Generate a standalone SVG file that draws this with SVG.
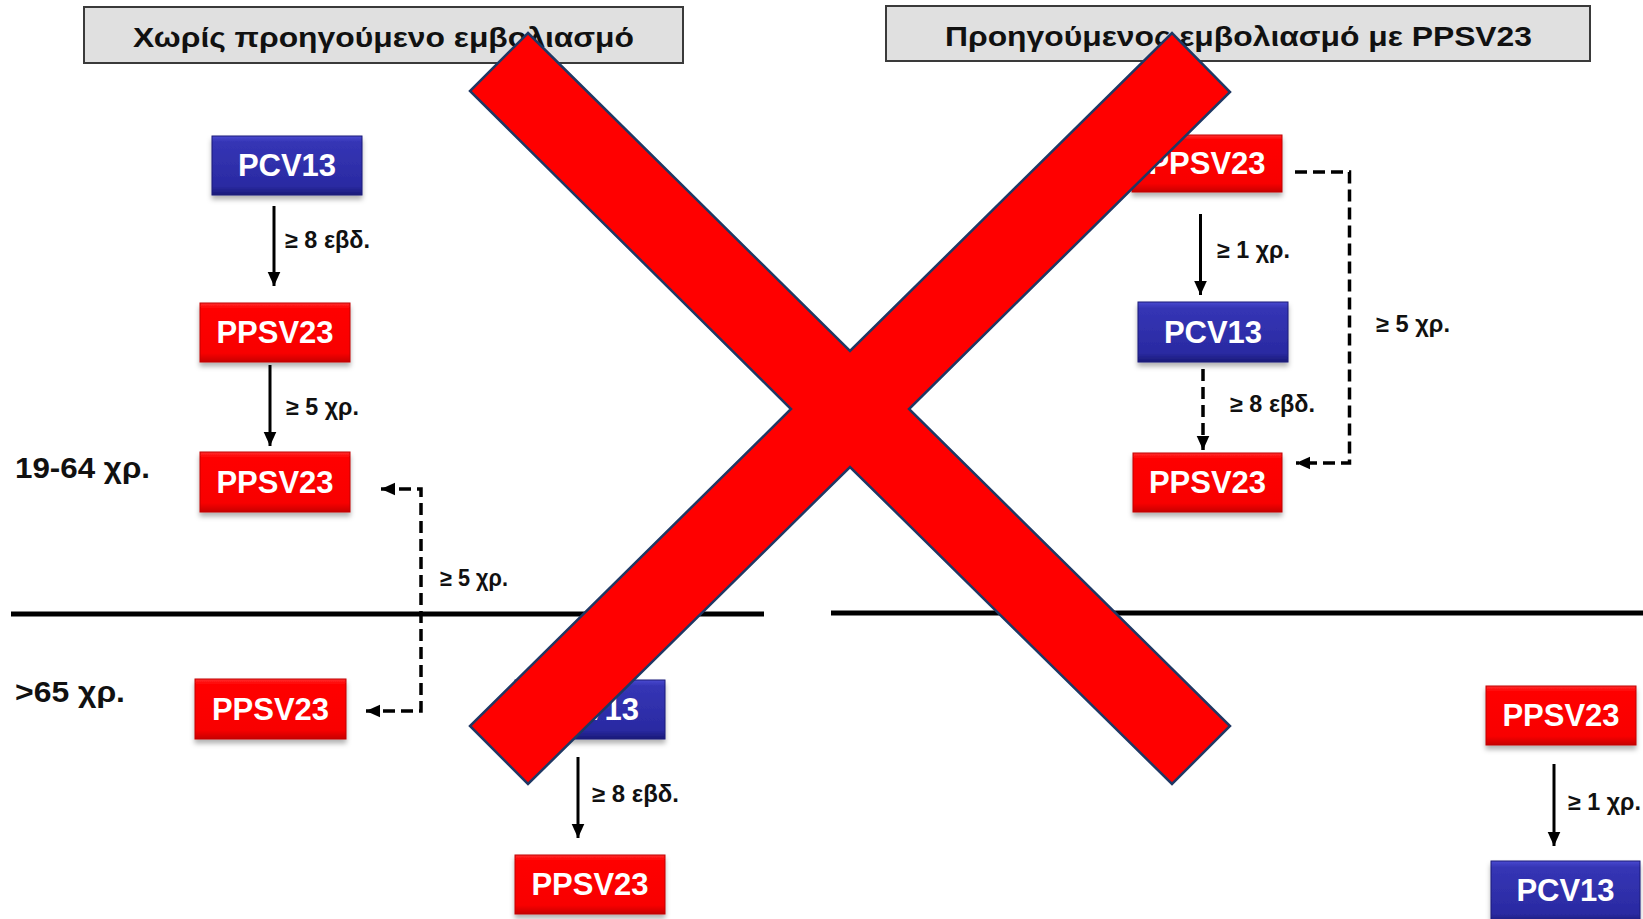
<svg xmlns="http://www.w3.org/2000/svg" width="1643" height="919" viewBox="0 0 1643 919">
<style>
.hdr{fill:#e0e0e0;stroke:#3a3a3a;stroke-width:2}
.htxt{font-family:"Liberation Sans",Arial,sans-serif;font-weight:bold;font-size:28px;fill:#111}
.rbox{fill:url(#gRed);stroke:#c00000;stroke-width:1;filter:url(#sh)}
.bbox{fill:url(#gBlue);stroke:#1c1c78;stroke-width:1;filter:url(#sh)}
.btxt{font-family:"Liberation Sans",Arial,sans-serif;font-weight:bold;font-size:31px;fill:#fff;text-anchor:middle}
.lbl{font-family:"Liberation Sans",Arial,sans-serif;font-weight:bold;font-size:23px;fill:#111}
.age{font-family:"Liberation Sans",Arial,sans-serif;font-weight:bold;font-size:29px;fill:#111}
.solid{fill:none;stroke:#000;stroke-width:3}
.dash{fill:none;stroke:#000;stroke-width:3.5;stroke-dasharray:12 6}
.sep{stroke:#000;stroke-width:5}
.cross{fill:#ff0000;stroke:#1f3864;stroke-width:2.5;stroke-linejoin:miter}
</style>
<defs>
<linearGradient id="gRed" x1="0" y1="0" x2="0" y2="1">
<stop offset="0" stop-color="#ff3030"/>
<stop offset="0.08" stop-color="#ff0505"/>
<stop offset="0.85" stop-color="#f80000"/>
<stop offset="1" stop-color="#c80000"/>
</linearGradient>
<linearGradient id="gBlue" x1="0" y1="0" x2="0" y2="1">
<stop offset="0" stop-color="#4a4ad0"/>
<stop offset="0.1" stop-color="#3535b5"/>
<stop offset="0.85" stop-color="#2a2aa2"/>
<stop offset="1" stop-color="#1a1a78"/>
</linearGradient>
<filter id="sh" x="-10%" y="-10%" width="120%" height="140%">
<feDropShadow dx="0" dy="4" stdDeviation="2.5" flood-color="#000" flood-opacity="0.3"/>
</filter>
<marker id="ah" viewBox="0 0 10 10" refX="10" refY="5" markerWidth="14" markerHeight="14" markerUnits="userSpaceOnUse" orient="auto-start-reverse">
<path d="M0,0.5 L10,5 L0,9.5 z" fill="#000"/>
</marker>
</defs>

<g id="header-left">
<rect class="hdr" x="84" y="7" width="599" height="56"/>
<text class="htxt" x="133" y="47" textLength="501" lengthAdjust="spacingAndGlyphs">Χωρίς προηγούμενο εμβολιασμό</text>
</g>
<g id="header-right">
<rect class="hdr" x="886" y="6" width="704" height="55"/>
<text class="htxt" x="945" y="46" textLength="587" lengthAdjust="spacingAndGlyphs">Προηγούμενος εμβολιασμό με PPSV23</text>
</g>

<g id="separators">
<line class="sep" x1="11" y1="614" x2="764" y2="614"/>
<line class="sep" x1="831" y1="613" x2="1643" y2="613"/>
</g>

<g id="age-labels">
<text class="age" x="15" y="478" textLength="135" lengthAdjust="spacingAndGlyphs">19-64 χρ.</text>
<text class="age" x="15" y="702" textLength="110" lengthAdjust="spacingAndGlyphs">&gt;65 χρ.</text>
</g>

<g id="n1"><rect class="bbox" x="212" y="136" width="150" height="59"/><text class="btxt" x="287" y="176">PCV13</text></g>
<g id="n2"><rect class="rbox" x="200" y="303" width="150" height="59"/><text class="btxt" x="275" y="343">PPSV23</text></g>
<g id="n3"><rect class="rbox" x="200" y="452" width="150" height="60"/><text class="btxt" x="275" y="493">PPSV23</text></g>
<g id="n4"><rect class="rbox" x="195" y="679" width="151" height="60"/><text class="btxt" x="270.5" y="720">PPSV23</text></g>
<g id="n5"><rect class="bbox" x="515" y="680" width="150" height="59"/><text class="btxt" x="590" y="720">PCV13</text></g>
<g id="n6"><rect class="rbox" x="515" y="855" width="150" height="59"/><text class="btxt" x="590" y="895">PPSV23</text></g>
<g id="n7"><rect class="rbox" x="1132" y="135" width="150" height="57"/><text class="btxt" x="1207" y="174">PPSV23</text></g>
<g id="n8"><rect class="bbox" x="1138" y="302" width="150" height="60"/><text class="btxt" x="1213" y="343">PCV13</text></g>
<g id="n9"><rect class="rbox" x="1133" y="453" width="149" height="59"/><text class="btxt" x="1207.5" y="493">PPSV23</text></g>
<g id="n10"><rect class="rbox" x="1486" y="686" width="150" height="59"/><text class="btxt" x="1561" y="726">PPSV23</text></g>
<g id="n11"><rect class="bbox" x="1491" y="861" width="149" height="62"/><text class="btxt" x="1565.5" y="901">PCV13</text></g>

<g id="connectors">
<path class="solid" d="M274,206 V286" marker-end="url(#ah)"/>
<path class="solid" d="M270,365 V446" marker-end="url(#ah)"/>
<path class="dash" d="M381,489 H421 V711 H366" marker-start="url(#ah)" marker-end="url(#ah)"/>
<path class="solid" d="M578,757 V838" marker-end="url(#ah)"/>
<path class="solid" d="M1200.5,214 V295" marker-end="url(#ah)"/>
<path class="dash" d="M1203,369 V450" marker-end="url(#ah)"/>
<path class="dash" d="M1295,172 H1349.5 V463 H1296" marker-end="url(#ah)"/>
<path class="solid" d="M1554,764 V846" marker-end="url(#ah)"/>
<text class="lbl" x="285" y="248" textLength="85" lengthAdjust="spacingAndGlyphs">≥ 8 εβδ.</text>
<text class="lbl" x="286" y="415" textLength="73" lengthAdjust="spacingAndGlyphs">≥ 5 χρ.</text>
<text class="lbl" x="440" y="586" textLength="68" lengthAdjust="spacingAndGlyphs">≥ 5 χρ.</text>
<text class="lbl" x="592" y="802" textLength="87" lengthAdjust="spacingAndGlyphs">≥ 8 εβδ.</text>
<text class="lbl" x="1217" y="258" textLength="73" lengthAdjust="spacingAndGlyphs">≥ 1 χρ.</text>
<text class="lbl" x="1230" y="412" textLength="85" lengthAdjust="spacingAndGlyphs">≥ 8 εβδ.</text>
<text class="lbl" x="1376" y="332" textLength="74" lengthAdjust="spacingAndGlyphs">≥ 5 χρ.</text>
<text class="lbl" x="1568" y="810" textLength="73" lengthAdjust="spacingAndGlyphs">≥ 1 χρ.</text>
</g>

<g id="cross">
<polygon class="cross" points="528,33 850,351 1172,33 1230,92 909,409 1230,726 1172,784 850,467 528,784 470,726 791,409 470,91"/>
</g>
</svg>
